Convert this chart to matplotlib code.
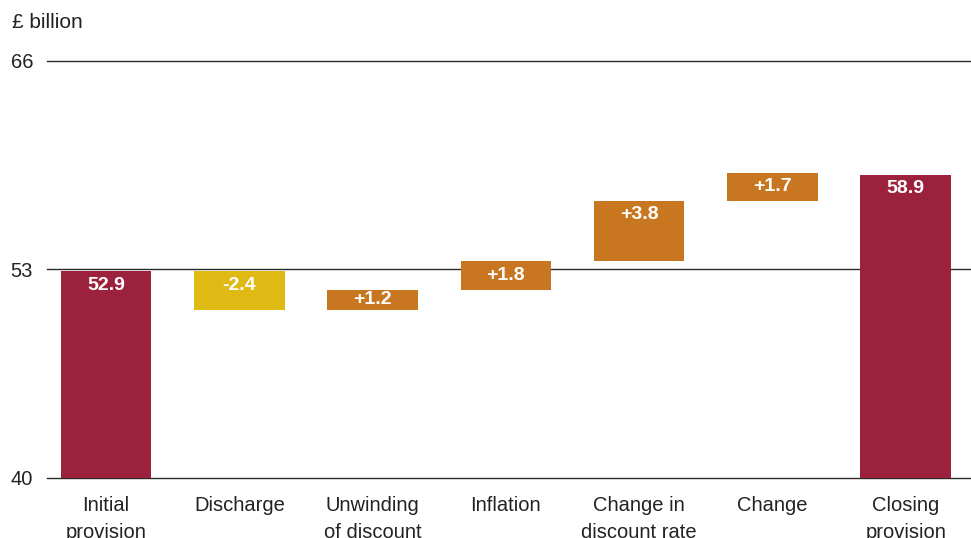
import matplotlib
matplotlib.use("Agg")
import matplotlib.pyplot as plt
import numpy as np

categories = ["Initial\nprovision", "Discharge", "Unwinding\nof discount", "Inflation",
              "Change in\ndiscount rate", "Change", "Closing\nprovision"]
initial_value = 52.9
changes = [-2.4, 1.2, 1.8, 3.8, 1.7]
closing_value = 58.9
y_ticks = [40, 53, 66]

CRIMSON = "#9C213D"
YELLOW = "#DFBA15"
ORANGE = "#C87720"
TEXT = "#222222"

plt.rcParams['font.family'] = ['Liberation Sans', 'DejaVu Sans']

fig = plt.figure(figsize=(9.71, 5.38), dpi=100)
ax = fig.add_axes([47/971, 60/538, 1 - 47/971, (478-61)/538])

x = np.arange(len(categories))
bottoms, heights, colors, labels = [], [], [], []
bottoms.append(40); heights.append(initial_value - 40); colors.append(CRIMSON); labels.append(f"{initial_value:.1f}")
level = initial_value
for c in changes:
    lo = level + min(c, 0)
    bottoms.append(lo); heights.append(abs(c))
    colors.append(YELLOW if c < 0 else ORANGE)
    labels.append(f"{c:+.1f}" if c > 0 else f"{c:.1f}")
    level += c
bottoms.append(40); heights.append(closing_value - 40); colors.append(CRIMSON); labels.append(f"{closing_value:.1f}")

for yt in y_ticks:
    ax.axhline(yt, color="#2a2a2a", lw=1.0, zorder=1, clip_on=False)

ax.set_ylim(40, 66)
ax.set_xlim(-0.443, 6.49)

bars = ax.bar(x, heights, bottom=bottoms, width=0.68, color=colors, zorder=2)
fig.canvas.draw()
px_per_unit = ax.transData.transform((0, 1))[1] - ax.transData.transform((0, 0))[1]
for xi, b, h, lab in zip(x, bottoms, heights, labels):
    off = min(14, h * px_per_unit / 2)
    ax.annotate(lab, (xi, b + h), xytext=(0, -off), textcoords="offset pixels",
                ha="center", va="center", color="white", fontsize=14, fontweight="bold", zorder=3)

ax.set_yticks(y_ticks)
ax.set_yticklabels([str(t) for t in y_ticks], fontsize=14.5, color=TEXT)
ax.set_xticks(x)
ax.set_xticklabels(categories, fontsize=14.5, color=TEXT, linespacing=1.55)
ax.tick_params(axis="y", length=0, pad=10)
ax.tick_params(axis="x", length=0, pad=13)
for s in ax.spines.values():
    s.set_visible(False)

fig.text(12/971, 1 - 22/538, "£ billion", fontsize=15, color=TEXT, ha="left", va="center")

fig.savefig("out.png", dpi=100)
